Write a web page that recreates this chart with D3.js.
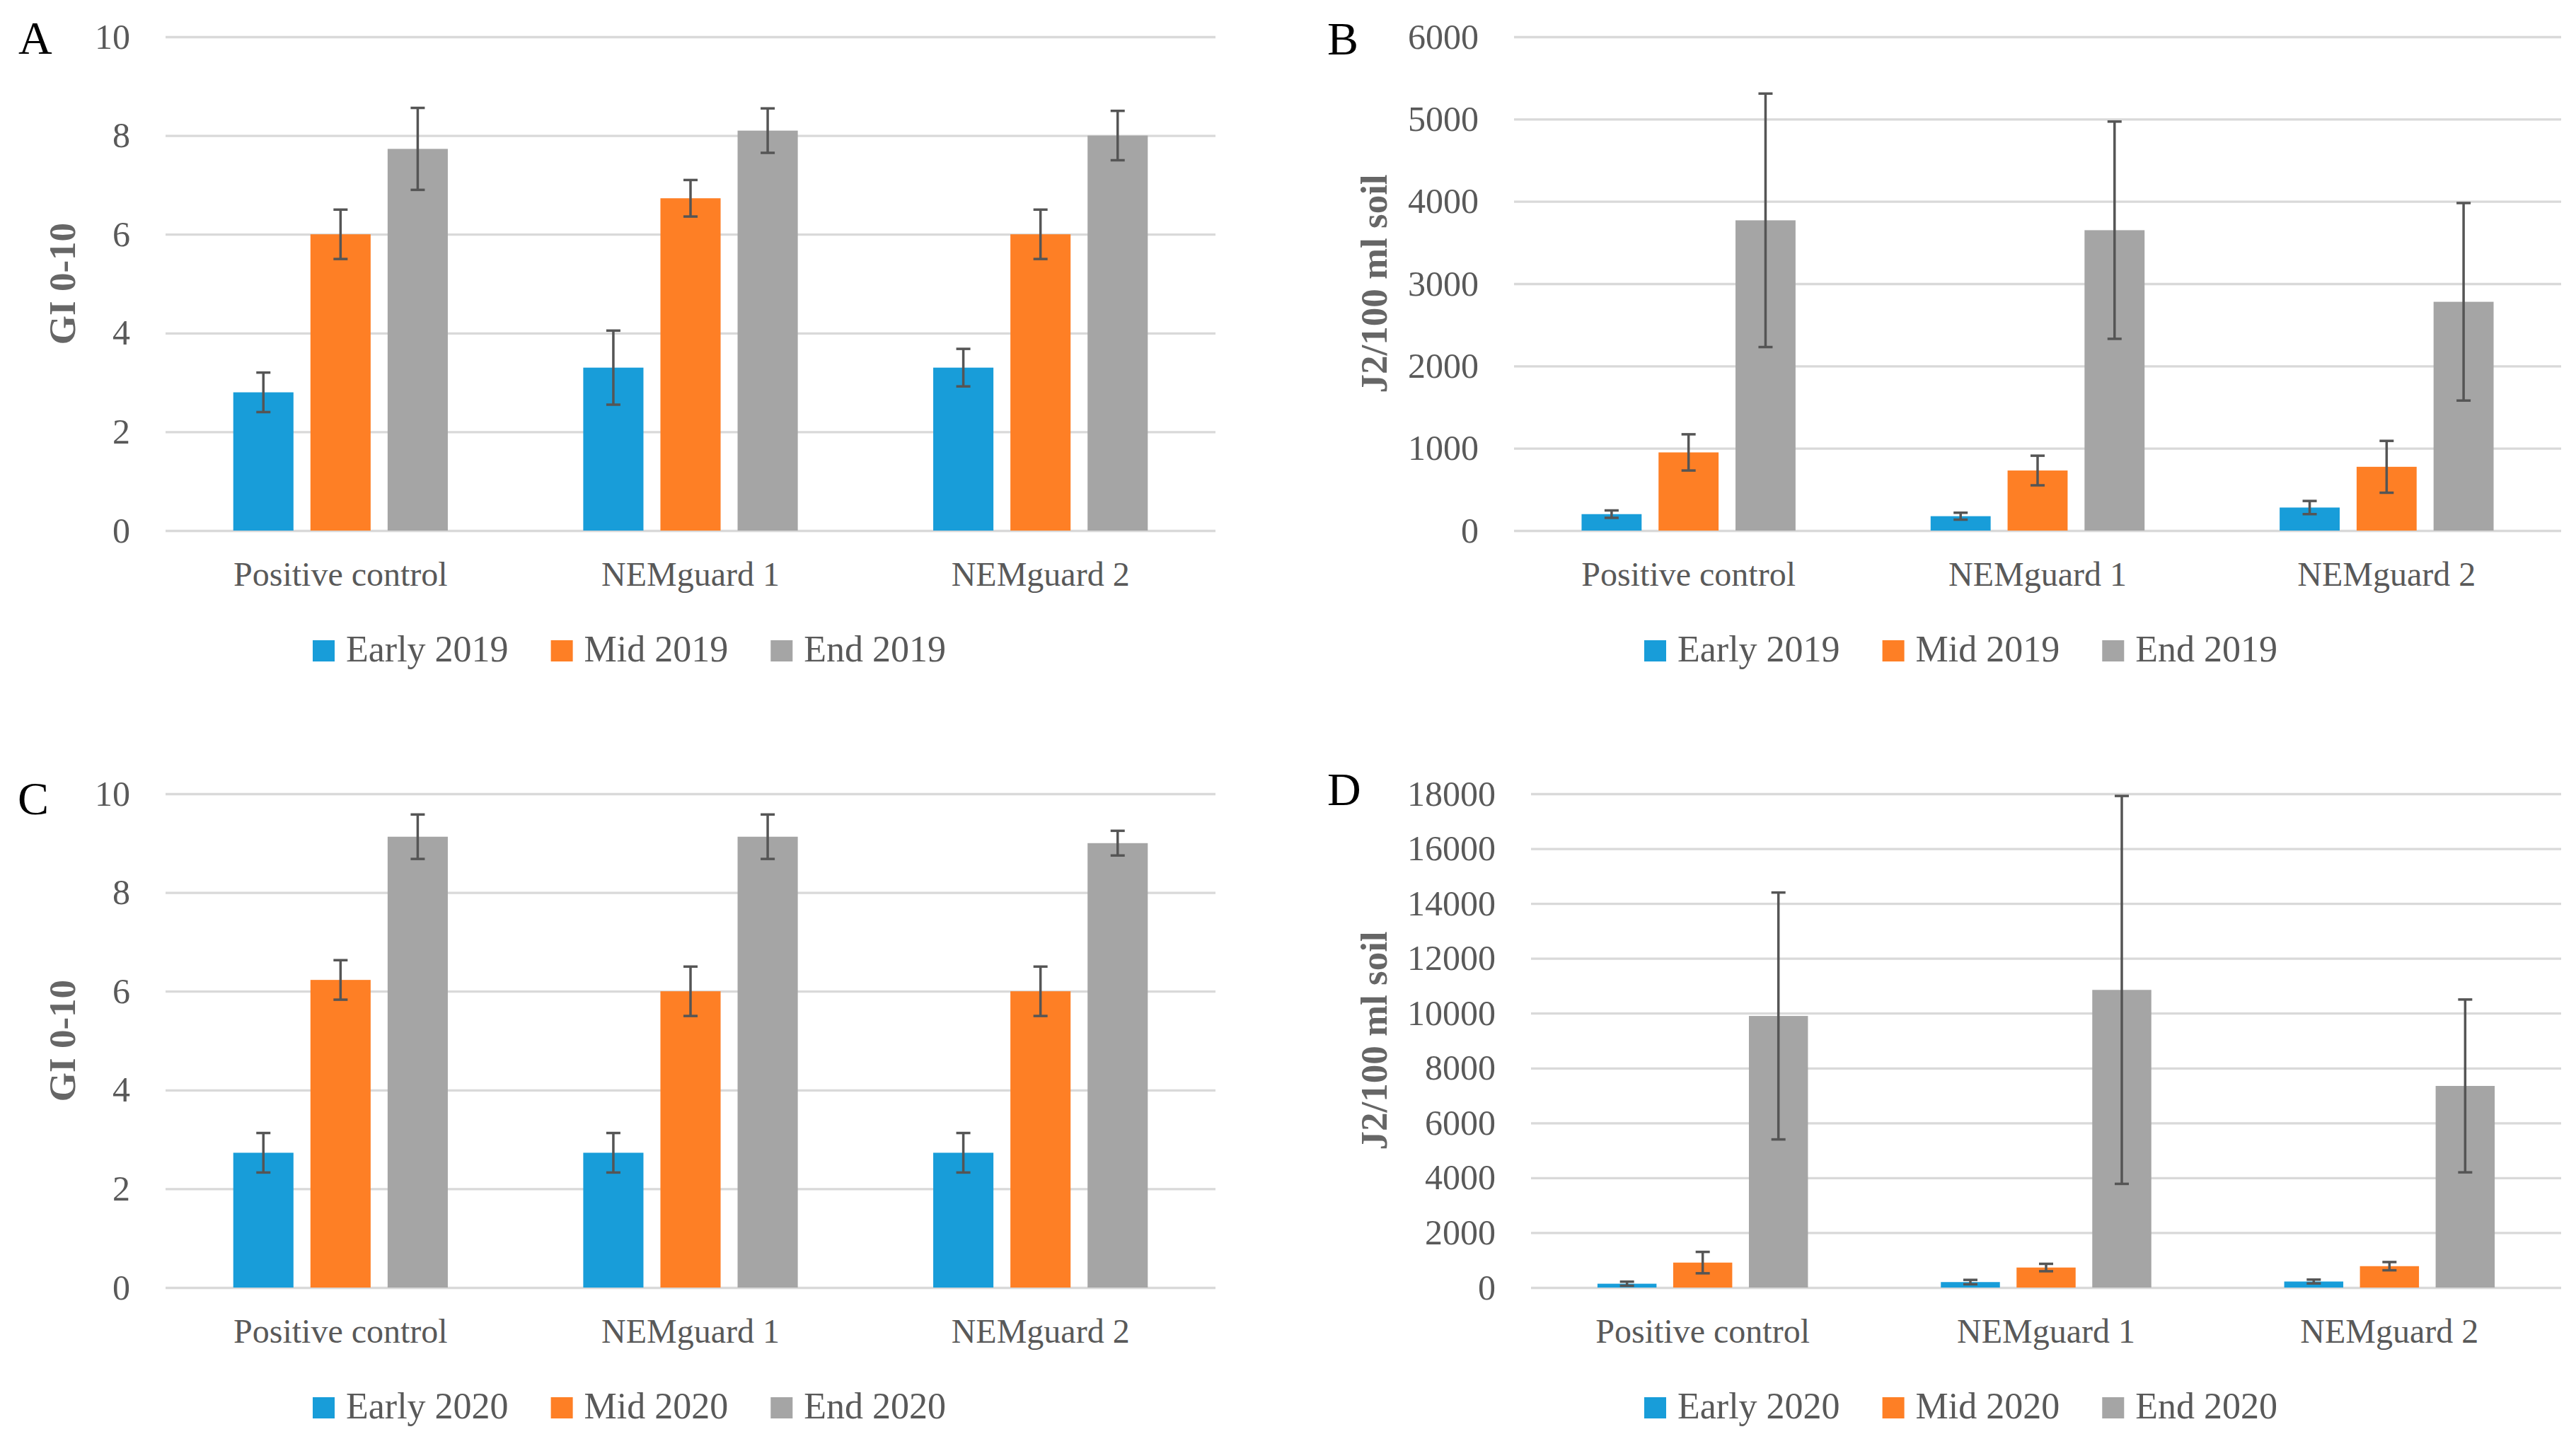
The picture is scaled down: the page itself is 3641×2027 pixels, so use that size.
<!DOCTYPE html>
<html>
<head>
<meta charset="utf-8">
<script src="https://cdn.jsdelivr.net/npm/d3@7"></script>
<style>
  body { margin: 0; background: #fff; }
  svg { display: block; }
  text { font-family: "Liberation Serif", "Times New Roman", serif; }
</style>
</head>
<body>
<svg id="chart" width="3641" height="2027"></svg>
<script>
// categories and series
const categories = ["Positive control", "NEMguard 1", "NEMguard 2"];
const series2019 = ["Early 2019", "Mid 2019", "End 2019"];
const series2020 = ["Early 2020", "Mid 2020", "End 2020"];
const seriesColors = ["#189dd9", "#fe7f25", "#a5a5a5"];

// A - gall index 2019 (values per category)
const giEarly2019 = [2.8, 3.3, 3.3];
const giMid2019 = [6.0, 6.73, 6.0];
const giEnd2019 = [7.73, 8.1, 8.0];
const giEarly2019Err = [0.4, 0.75, 0.38];
const giMid2019Err = [0.5, 0.37, 0.5];
const giEnd2019Err = [0.83, 0.45, 0.5];

// B - J2 per 100 ml soil 2019
const j2Early2019 = [200, 175, 280];
const j2Mid2019 = [950, 730, 775];
const j2End2019 = [3770, 3650, 2780];
const j2Early2019Err = [45, 42, 80];
const j2Mid2019Err = [220, 180, 315];
const j2End2019Err = [1540, 1320, 1200];

// C - gall index 2020
const giEarly2020 = [2.73, 2.73, 2.73];
const giMid2020 = [6.23, 6.0, 6.0];
const giEnd2020 = [9.13, 9.13, 9.0];
const giEarly2020Err = [0.4, 0.4, 0.4];
const giMid2020Err = [0.4, 0.5, 0.5];
const giEnd2020Err = [0.45, 0.45, 0.25];

// D - J2 per 100 ml soil 2020
const j2Early2020 = [140, 200, 220];
const j2Mid2020 = [910, 730, 780];
const j2End2020 = [9900, 10850, 7350];
const j2Early2020Err = [75, 80, 70];
const j2Mid2020Err = [390, 135, 150];
const j2End2020Err = [4500, 7070, 3150];

// y axis ticks
const giTicks = [0, 2, 4, 6, 8, 10];
const j2Ticks2019 = [0, 1000, 2000, 3000, 4000, 5000, 6000];
const j2Ticks2020 = [0, 2000, 4000, 6000, 8000, 10000, 12000, 14000, 16000, 18000];

const svg = d3.select("#chart");
const textGray = "#595959";

function drawPanel(p) {
    const g = svg.append("g");

    const y = d3.scaleLinear().domain(p.domain).range([p.bottom, p.top]);
    const x0 = d3.scaleBand()
        .domain(categories)
        .range([p.left, p.right])
        .paddingInner(0.387)
        .paddingOuter(0.1935);
    const x1 = d3.scaleBand()
        .domain(p.series)
        .range([0, x0.bandwidth()])
        .paddingInner(0.22);

    // gridlines + tick labels
    const yAxis = d3.axisLeft(y)
        .tickValues(p.ticks)
        .tickSizeInner(-(p.right - p.left))
        .tickSizeOuter(0)
        .tickPadding(50)
        .tickFormat(d3.format("d"));

    const ya = g.append("g")
        .attr("transform", `translate(${p.left},0)`)
        .call(yAxis);
    ya.select(".domain").remove();
    ya.selectAll(".tick line").attr("stroke", "#d9d9d9").attr("stroke-width", 3.3);
    ya.selectAll(".tick text")
        .attr("fill", textGray)
        .style("font-size", "50px")
        .style("font-family", "'Liberation Serif', serif");

    // bars
    const rows = [];
    p.series.forEach((s, si) => {
        categories.forEach((c, ci) => {
            rows.push({ cat: c, series: s, si: si, v: p.values[si][ci], e: p.errors[si][ci] });
        });
    });

    g.append("g").selectAll("rect")
        .data(rows)
        .join("rect")
        .attr("x", d => x0(d.cat) + x1(d.series))
        .attr("width", x1.bandwidth())
        .attr("y", d => y(d.v))
        .attr("height", d => y(0) - y(d.v))
        .attr("fill", d => seriesColors[d.si]);

    // error bars
    const eb = g.append("g")
        .attr("stroke", "#555")
        .attr("stroke-width", 3.5)
        .selectAll("g")
        .data(rows)
        .join("g")
        .attr("transform", d => `translate(${x0(d.cat) + x1(d.series) + x1.bandwidth() / 2},0)`);
    eb.append("line")
        .attr("y1", d => y(d.v - d.e))
        .attr("y2", d => y(d.v + d.e));
    eb.append("line")
        .attr("x1", -10).attr("x2", 10)
        .attr("y1", d => y(d.v + d.e)).attr("y2", d => y(d.v + d.e));
    eb.append("line")
        .attr("x1", -10).attr("x2", 10)
        .attr("y1", d => y(d.v - d.e)).attr("y2", d => y(d.v - d.e));

    // category labels
    g.append("g").selectAll("text")
        .data(categories)
        .join("text")
        .attr("x", d => x0(d) + x0.bandwidth() / 2)
        .attr("y", p.bottom + 78)
        .attr("text-anchor", "middle")
        .attr("fill", textGray)
        .style("font-size", "48px")
        .text(d => d);

    // y title
    g.append("text")
        .attr("transform", `translate(${p.titleX},${(p.top + p.bottom) / 2}) rotate(-90)`)
        .attr("text-anchor", "middle")
        .attr("dominant-baseline", "central")
        .attr("fill", "#666")
        .style("font-size", "53px")
        .style("font-weight", "bold")
        .text(p.title);

    // panel letter
    g.append("text")
        .attr("x", p.letterX)
        .attr("y", p.letterY)
        .attr("fill", "#000")
        .style("font-size", "66px")
        .text(p.letter);

    // legend
    const lg = g.append("g").attr("transform", `translate(${p.legendX},${p.bottom + 185})`);
    let lx = 0;
    p.series.forEach((s, si) => {
        lg.append("rect")
            .attr("x", lx).attr("y", -30)
            .attr("width", 31).attr("height", 30)
            .attr("fill", seriesColors[si]);
        const t = lg.append("text")
            .attr("x", lx + 47).attr("y", 0)
            .attr("fill", textGray)
            .style("font-size", "52px")
            .text(s);
        lx += 47 + t.node().getComputedTextLength() + 60;
    });
}

drawPanel({
    letter: "A", letterX: 26, letterY: 76,
    left: 234, right: 1718, top: 52, bottom: 750,
    domain: [0, 10], ticks: giTicks, title: "GI 0-10", titleX: 88,
    series: series2019,
    values: [giEarly2019, giMid2019, giEnd2019],
    errors: [giEarly2019Err, giMid2019Err, giEnd2019Err],
    legendX: 442
});

drawPanel({
    letter: "B", letterX: 1876, letterY: 77,
    left: 2140, right: 3620, top: 52, bottom: 750,
    domain: [0, 6000], ticks: j2Ticks2019, title: "J2/100 ml soil", titleX: 1942,
    series: series2019,
    values: [j2Early2019, j2Mid2019, j2End2019],
    errors: [j2Early2019Err, j2Mid2019Err, j2End2019Err],
    legendX: 2324
});

drawPanel({
    letter: "C", letterX: 25, letterY: 1151,
    left: 234, right: 1718, top: 1122, bottom: 1820,
    domain: [0, 10], ticks: giTicks, title: "GI 0-10", titleX: 88,
    series: series2020,
    values: [giEarly2020, giMid2020, giEnd2020],
    errors: [giEarly2020Err, giMid2020Err, giEnd2020Err],
    legendX: 442
});

drawPanel({
    letter: "D", letterX: 1876, letterY: 1138,
    left: 2164, right: 3620, top: 1122, bottom: 1820,
    domain: [0, 18000], ticks: j2Ticks2020, title: "J2/100 ml soil", titleX: 1942,
    series: series2020,
    values: [j2Early2020, j2Mid2020, j2End2020],
    errors: [j2Early2020Err, j2Mid2020Err, j2End2020Err],
    legendX: 2324
});
</script>
</body>
</html>
